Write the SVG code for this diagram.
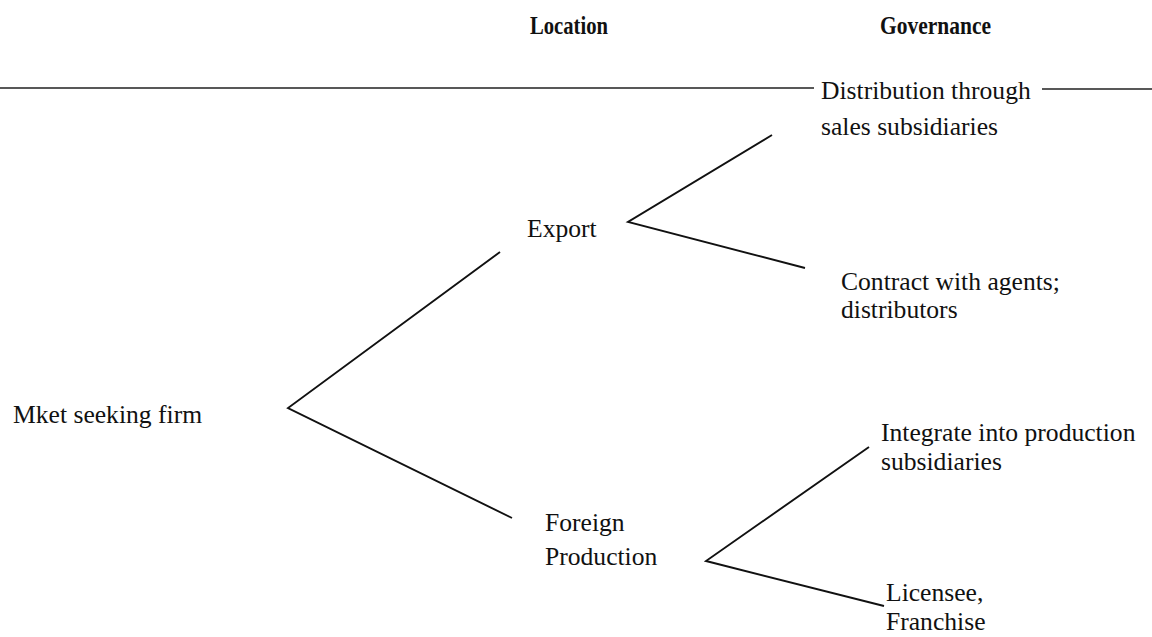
<svg xmlns="http://www.w3.org/2000/svg" width="1152" height="637" viewBox="0 0 1152 637">
<style>
.t{font-family:"Liberation Serif","Times New Roman",serif;font-size:25.6px;fill:#111}
.h{font-family:"Liberation Serif","Times New Roman",serif;font-size:26px;font-weight:bold;fill:#111}
.c{fill:none;stroke:#111;stroke-width:1.9;stroke-linejoin:miter}
.r{fill:none;stroke:#222;stroke-width:1.4}
</style>
<rect width="1152" height="637" fill="#fff"/>
<g id="headers">
<text class="h" x="530" y="34" textLength="78" lengthAdjust="spacingAndGlyphs">Location</text>
<text class="h" x="880" y="34" textLength="111" lengthAdjust="spacingAndGlyphs">Governance</text>
</g>
<g id="rule">
<path class="r" d="M0 88 L814 88 M1042 89 L1152 89"/>
</g>
<g id="connectors">
<polyline class="c" points="500,252 288,408 512,518"/>
<polyline class="c" points="772,135 628,222 805,268"/>
<polyline class="c" points="869,447 706,561 884,606"/>
</g>
<g id="node-root"><text class="t" x="13" y="423">Mket seeking firm</text></g>
<g id="node-export"><text class="t" x="527" y="237">Export</text></g>
<g id="node-foreign"><text class="t" x="545" y="531">Foreign</text><text class="t" x="545" y="565">Production</text></g>
<g id="node-distribution"><text class="t" x="821" y="99">Distribution through</text><text class="t" x="821" y="135">sales subsidiaries</text></g>
<g id="node-contract"><text class="t" x="841" y="290">Contract with agents;</text><text class="t" x="841" y="318">distributors</text></g>
<g id="node-integrate"><text class="t" x="881" y="441">Integrate into production</text><text class="t" x="881" y="470">subsidiaries</text></g>
<g id="node-licensee"><text class="t" x="886" y="601">Licensee,</text><text class="t" x="886" y="630">Franchise</text></g>
</svg>
